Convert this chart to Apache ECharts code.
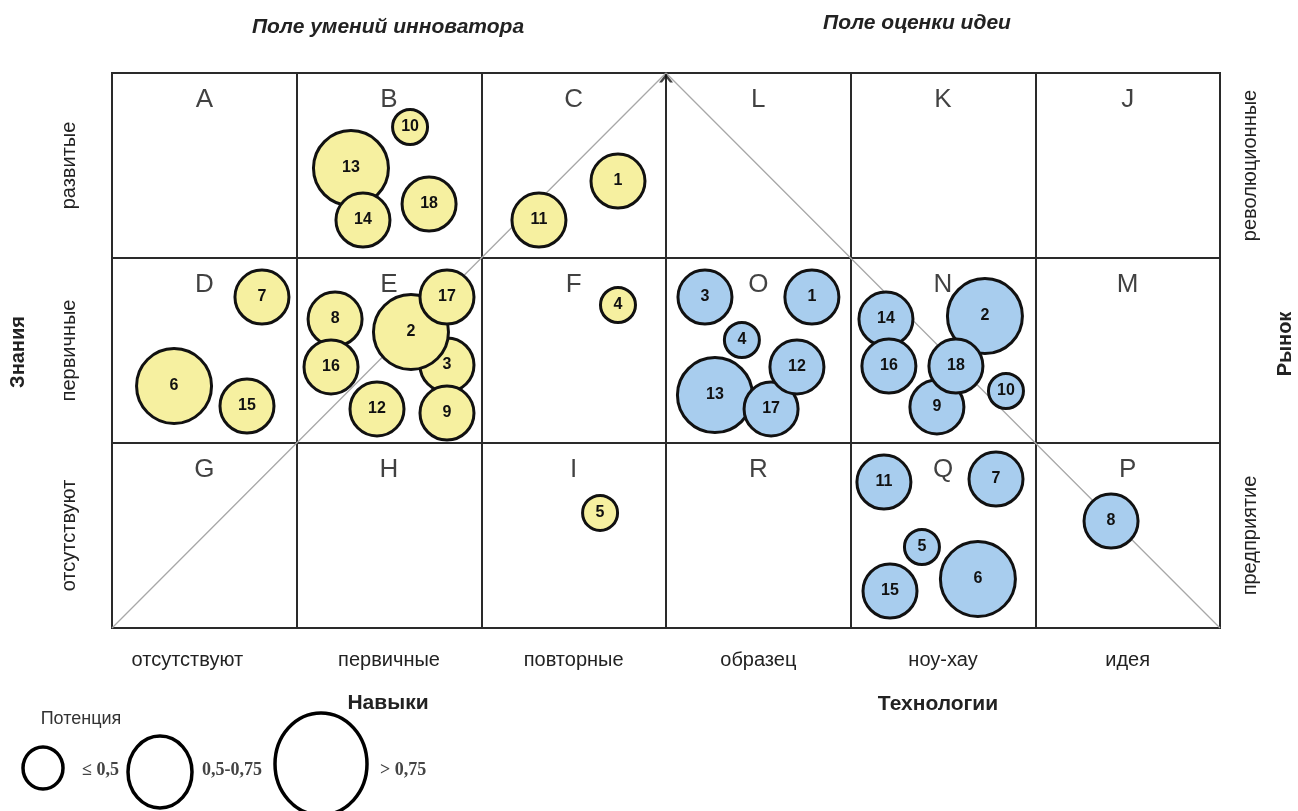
<!DOCTYPE html>
<html><head><meta charset="utf-8">
<script src="https://cdn.jsdelivr.net/npm/echarts@6/dist/echarts.min.js"></script>
<style>html,body{margin:0;padding:0;background:#fff}#c{width:1298px;height:811px}</style>
</head><body><div id="c"></div>
<script>
// ---- data ----
const skillLabels = ['отсутствуют', 'первичные', 'повторные', 'образец', 'ноу-хау', 'идея'];
const knowledgeLabels = ['отсутствуют', 'первичные', 'развитые'];      // bottom -> top
const marketLabels = ['предприятие', 'отраслевые', 'революционные'];  // bottom -> top
const cellLettersBottom = ['G', 'H', 'I', 'R', 'Q', 'P'];
const cellLettersMiddle = ['D', 'E', 'F', 'O', 'N', 'M'];
const cellLettersTop = ['A', 'B', 'C', 'L', 'K', 'J'];
// bubbles: [x in cells, y in cells, number, potential class (1: <=0.5, 2: 0.5-0.75, 3: >0.75)]
const innovatorBubbles = [
  [1.614, 2.708, 10, 1], [1.294, 2.486, 13, 3], [1.359, 2.205, 14, 2], [1.717, 2.292, 18, 2],
  [2.740, 2.416, 1, 2], [2.312, 2.205, 11, 2],
  [0.812, 1.789, 7, 2], [0.336, 1.308, 6, 3], [0.731, 1.200, 15, 2],
  [1.814, 1.422, 3, 2], [1.619, 1.600, 2, 3], [1.814, 1.789, 17, 2], [1.208, 1.670, 8, 2],
  [1.186, 1.411, 16, 2], [1.814, 1.162, 9, 2], [1.435, 1.184, 12, 2],
  [2.740, 1.746, 4, 1], [2.643, 0.622, 5, 1]
];
const ideaBubbles = [
  [3.211, 1.789, 3, 2], [3.790, 1.789, 1, 2], [3.411, 1.557, 4, 1], [3.265, 1.259, 13, 3],
  [3.569, 1.184, 17, 2], [3.709, 1.411, 12, 2],
  [4.191, 1.670, 14, 2], [4.207, 1.416, 16, 2], [4.727, 1.686, 2, 3], [4.467, 1.195, 9, 2],
  [4.570, 1.416, 18, 2], [4.841, 1.281, 10, 1],
  [4.180, 0.789, 11, 2], [4.787, 0.805, 7, 2], [4.386, 0.438, 5, 1], [4.213, 0.200, 15, 2],
  [4.689, 0.265, 6, 3], [5.410, 0.578, 8, 2]
];
const diagonalPath = [[0, 0], [3, 3], [6, 0]];
const potentialClasses = ['≤ 0,5', '0,5-0,75', '> 0,75'];

// ---- styles ----
const classSize = {1: 35, 2: 54, 3: 75};
const FONT = '"Liberation Sans", Arial, sans-serif';
const SERIF = '"Liberation Serif", "Times New Roman", serif';
const letterData = [];
[cellLettersBottom, cellLettersMiddle, cellLettersTop].forEach((row, r) =>
  row.forEach((l, c) => letterData.push([c + 0.5, r + 0.855, l])));

function bubbleSeries(name, data, fill) {
  return {
    name, type: 'scatter', xAxisIndex: 0, yAxisIndex: 0, z: 5,
    data, symbolSize: v => classSize[v[3]],
    itemStyle: {color: fill, borderColor: '#111', borderWidth: 3, opacity: 1},
    label: {show: true, position: 'inside', formatter: p => String(p.value[2]),
      fontFamily: FONT, fontWeight: 'bold', fontSize: 16, color: '#111'},
    emphasis: {disabled: true}
  };
}

const chart = echarts.init(document.getElementById('c'), null, {renderer: 'canvas'});
const axisHidden = {axisLine: {show: false}, axisTick: {show: false}, splitLine: {show: false}};
chart.setOption({
  animation: false,
  backgroundColor: '#fff',
  grid: {left: 112, right: 78, top: 73, bottom: 183, show: true, borderColor: '#2a2a2a', borderWidth: 2, backgroundColor: 'transparent'},
  xAxis: [
    {type: 'value', min: 0, max: 6, interval: 1, axisLine: {show: false}, axisTick: {show: false},
      axisLabel: {show: false}, splitLine: {show: true, lineStyle: {color: '#2a2a2a', width: 2}}},
    Object.assign({type: 'category', data: skillLabels, position: 'bottom', gridIndex: 0,
      axisLabel: {margin: 22, fontSize: 20, color: '#222', fontFamily: FONT,
        formatter: (v, i) => i === 0 ? '{s|' + v + '}' : v,
        rich: {s: {padding: [0, 34, 0, 0], fontSize: 20, color: '#222', fontFamily: FONT}}}}, axisHidden)
  ],
  yAxis: [
    {type: 'value', min: 0, max: 3, interval: 1, axisLine: {show: false}, axisTick: {show: false},
      axisLabel: {show: false}, splitLine: {show: true, lineStyle: {color: '#2a2a2a', width: 2}}},
    Object.assign({type: 'category', data: knowledgeLabels, position: 'left', gridIndex: 0,
      axisLabel: {rotate: 90, margin: 33, fontSize: 20, color: '#222', fontFamily: FONT}}, axisHidden),
    Object.assign({type: 'category', data: marketLabels, position: 'right', gridIndex: 0,
      axisLabel: {rotate: 90, margin: 20, fontSize: 20, color: '#222', fontFamily: FONT}}, axisHidden)
  ],
  series: [
    {type: 'line', xAxisIndex: 0, yAxisIndex: 0, data: diagonalPath, symbol: 'none', z: 1,
      lineStyle: {color: '#a8a8a8', width: 1.3}, silent: true},
    {type: 'scatter', xAxisIndex: 0, yAxisIndex: 0, data: [diagonalPath[1]], z: 3,
      symbol: 'path://M0,9 L7,0 L14,9 L11,9 L7,4 L3,9 Z', symbolSize: [14, 9], symbolOffset: [0, 5],
      itemStyle: {color: '#111'}, silent: true},
    {type: 'scatter', xAxisIndex: 0, yAxisIndex: 0, data: letterData, symbolSize: 1, z: 4,
      itemStyle: {color: 'rgba(0,0,0,0)'}, silent: true,
      label: {show: true, position: 'inside', formatter: p => p.value[2], fontSize: 26,
        fontFamily: FONT, color: '#111'}},
    bubbleSeries('innovator', innovatorBubbles, '#f6f0a0'),
    bubbleSeries('idea', ideaBubbles, '#a8cdee')
  ],
  graphic: [
    {type: 'text', x: 388, y: 27, style: {text: 'Поле умений инноватора', fontFamily: FONT,
      fontSize: 21, fontWeight: 'bold', fontStyle: 'italic', fill: '#222', align: 'center', verticalAlign: 'middle'}},
    {type: 'text', x: 917, y: 23, style: {text: 'Поле оценки идеи', fontFamily: FONT,
      fontSize: 21, fontWeight: 'bold', fontStyle: 'italic', fill: '#222', align: 'center', verticalAlign: 'middle'}},
    {type: 'text', x: 18, y: 352, rotation: Math.PI / 2, style: {text: 'Знания', fontFamily: FONT,
      fontSize: 20, fontWeight: 'bold', fill: '#222', align: 'center', verticalAlign: 'middle'}},
    {type: 'text', x: 1285, y: 344, rotation: Math.PI / 2, style: {text: 'Рынок', fontFamily: FONT,
      fontSize: 20, fontWeight: 'bold', fill: '#222', align: 'center', verticalAlign: 'middle'}},
    {type: 'text', x: 388, y: 703, style: {text: 'Навыки', fontFamily: FONT, fontSize: 21,
      fontWeight: 'bold', fill: '#222', align: 'center', verticalAlign: 'middle'}},
    {type: 'text', x: 938, y: 704, style: {text: 'Технологии', fontFamily: FONT, fontSize: 21,
      fontWeight: 'bold', fill: '#222', align: 'center', verticalAlign: 'middle'}},
    {type: 'text', x: 81, y: 719, style: {text: 'Потенция', fontFamily: FONT, fontSize: 18,
      fill: '#333', align: 'center', verticalAlign: 'middle'}},
    {type: 'ellipse', shape: {cx: 43, cy: 768, rx: 20, ry: 21}, style: {fill: '#fff', stroke: '#000', lineWidth: 3.5}},
    {type: 'ellipse', shape: {cx: 160, cy: 772, rx: 32, ry: 36}, style: {fill: '#fff', stroke: '#000', lineWidth: 3.5}},
    {type: 'ellipse', shape: {cx: 321, cy: 764, rx: 46, ry: 51}, style: {fill: '#fff', stroke: '#000', lineWidth: 3.5}},
    {type: 'text', x: 82, y: 770, style: {text: potentialClasses[0], fontFamily: SERIF,
      fontSize: 18, fontWeight: 'bold', fill: '#444', verticalAlign: 'middle'}},
    {type: 'text', x: 202, y: 770, style: {text: potentialClasses[1], fontFamily: SERIF,
      fontSize: 18, fontWeight: 'bold', fill: '#444', verticalAlign: 'middle'}},
    {type: 'text', x: 380, y: 770, style: {text: potentialClasses[2], fontFamily: SERIF,
      fontSize: 18, fontWeight: 'bold', fill: '#444', verticalAlign: 'middle'}}
  ]
});
</script>
</body></html>
